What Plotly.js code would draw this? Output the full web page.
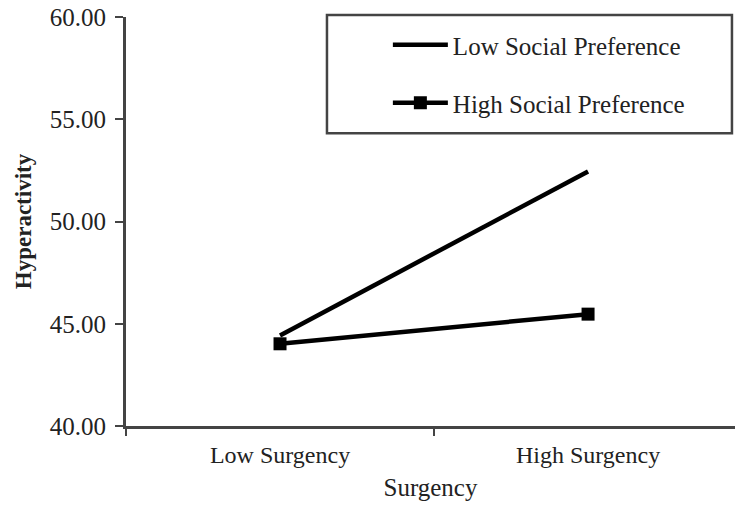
<!DOCTYPE html>
<html>
<head>
<meta charset="utf-8">
<script src="https://cdn.plot.ly/plotly-3.0.1.min.js"></script>
<style>html,body{margin:0;padding:0;background:#fff;}#chart{width:735px;height:505px;}</style>
</head>
<body>
<div id="chart"></div>
<script>
var categories = ["Low Surgency", "High Surgency"];
var lowSocialPreference = [44.43, 52.45];
var highSocialPreference = [44.02, 45.47];
var seriesNames = ["Low Social Preference", "High Social Preference"];
var yTickValues = [40, 45, 50, 55, 60];

var FONT = "Liberation Serif, Times New Roman, serif";
var traces = [
  {
    x: categories, y: lowSocialPreference, name: seriesNames[0],
    type: "scatter", mode: "lines",
    line: {color: "#000", width: 4.5},
    legend: "legend"
  },
  {
    x: categories, y: highSocialPreference, name: seriesNames[1],
    type: "scatter", mode: "lines+markers",
    line: {color: "#000", width: 4.5},
    marker: {symbol: "square", size: 13, color: "#000"},
    legend: "legend2"
  }
];

var legendCommon = {
  xanchor: "left", yanchor: "middle",
  bgcolor: "rgba(0,0,0,0)", borderwidth: 0,
  font: {family: FONT, size: 25, color: "#222"},
  itemwidth: 55
};

var layout = {
  width: 735, height: 505,
  margin: {l: 126, r: 0, t: 17, b: 79, pad: 0},
  paper_bgcolor: "#fff", plot_bgcolor: "#fff",
  font: {family: FONT, size: 25, color: "#222"},
  xaxis: {
    type: "category",
    range: [-0.5, 1.477],
    showline: true, linecolor: "#444", linewidth: 3,
    ticks: "outside", ticklen: 7, tickwidth: 2, tickcolor: "#444",
    tickson: "boundaries",
    ticklabelstandoff: 5,
    showgrid: false, zeroline: false,
    tickfont: {family: FONT, size: 24, color: "#222"},
    title: {text: "Surgency", font: {family: FONT, size: 25, color: "#222"}, standoff: 12},
    automargin: false, fixedrange: true
  },
  yaxis: {
    range: [40, 60],
    tickvals: yTickValues,
    tickformat: ".2f",
    showline: true, linecolor: "#444", linewidth: 3,
    ticks: "outside", ticklen: 8, tickwidth: 2, tickcolor: "#444",
    ticklabelstandoff: 4,
    showgrid: false, zeroline: false,
    tickfont: {family: FONT, size: 25, color: "#222"},
    title: {text: "<b>Hyperactivity</b>", font: {family: FONT, size: 23, color: "#222"}, standoff: 12},
    automargin: false, fixedrange: true
  },
  showlegend: true,
  legend: Object.assign({x: 0.43, y: 0.9315}, legendCommon),
  legend2: Object.assign({x: 0.43, y: 0.7897}, legendCommon),
  shapes: [
    {type: "rect", xref: "paper", yref: "paper",
     x0: 0.330, x1: 0.995, y0: 0.716, y1: 1.005,
     line: {color: "#444", width: 2.5}, fillcolor: "rgba(0,0,0,0)", layer: "above"}
  ]
};

Plotly.newPlot("chart", traces, layout, {staticPlot: true, displayModeBar: false});
</script>
</body>
</html>
